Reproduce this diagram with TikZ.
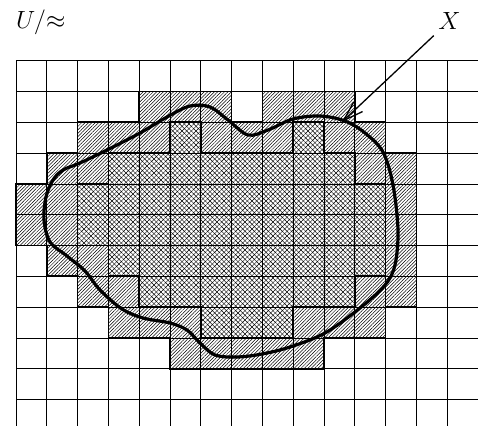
\documentclass[tikz,border=0pt]{standalone}
\usetikzlibrary{patterns.meta,arrows.meta}
\begin{document}
\begin{tikzpicture}[x=1pt,y=-1pt,
  gridline/.style={line width=0.8pt,black},
  outline/.style={line width=1.7pt,black,line join=miter},
  hatchfill/.style={pattern={Lines[angle=45,distance=2.4pt,line width=0.5pt]}},
  crossA/.style={pattern={Lines[angle=45,distance=3.3pt,line width=0.45pt]}},
  crossB/.style={pattern={Lines[angle=-45,distance=3.3pt,line width=0.45pt]}},
  curvestyle/.style={line width=3.2pt,black,line join=round},
  lbl/.style={inner sep=0pt,font=\fontsize{23.5}{28}\selectfont},
  pointer/.style={line width=1.3pt,-{Straight Barb[length=20pt,width=13pt]}}]
\useasboundingbox (0,0) rectangle (478,425);
\begin{scope}
\clip (0,0) rectangle (478,425);
\begin{scope}[x=30.8pt,y=-30.8pt,shift={(16pt,-60.7pt)}]
  % hatched outer region
  \fill[hatchfill] (4,1)--(7,1)--(7,2)--(8,2)--(8,1)--(11,1)--(11,2)--(12,2)--(12,3)--(13,3)--(13,8)--(12,8)--(12,9)--(10,9)--(10,10)--(5,10)--(5,9)--(3,9)--(3,8)--(2,8)--(2,7)--(1,7)--(1,6)--(0,6)--(0,4)--(1,4)--(1,3)--(2,3)--(2,2)--(4,2)--cycle;
  % cross-hatched inner region
  \fill[white] (5,2)--(6,2)--(6,3)--(9,3)--(9,2)--(10,2)--(10,3)--(11,3)--(11,4)--(12,4)--(12,7)--(11,7)--(11,8)--(9,8)--(9,9)--(6,9)--(6,8)--(4,8)--(4,7)--(3,7)--(3,6)--(2,6)--(2,4)--(3,4)--(3,3)--(5,3)--cycle;
  \fill[crossA] (5,2)--(6,2)--(6,3)--(9,3)--(9,2)--(10,2)--(10,3)--(11,3)--(11,4)--(12,4)--(12,7)--(11,7)--(11,8)--(9,8)--(9,9)--(6,9)--(6,8)--(4,8)--(4,7)--(3,7)--(3,6)--(2,6)--(2,4)--(3,4)--(3,3)--(5,3)--cycle;
  \fill[crossB] (5,2)--(6,2)--(6,3)--(9,3)--(9,2)--(10,2)--(10,3)--(11,3)--(11,4)--(12,4)--(12,7)--(11,7)--(11,8)--(9,8)--(9,9)--(6,9)--(6,8)--(4,8)--(4,7)--(3,7)--(3,6)--(2,6)--(2,4)--(3,4)--(3,3)--(5,3)--cycle;
  % grid
  \foreach \i in {0,...,15} \draw[gridline] (\i,0) -- (\i,12);
  \foreach \j in {0,...,12} \draw[gridline] (0,\j) -- (15,\j);
  % outlines
  \draw[outline] (4,1)--(7,1)--(7,2)--(8,2)--(8,1)--(11,1)--(11,2)--(12,2)--(12,3)--(13,3)--(13,8)--(12,8)--(12,9)--(10,9)--(10,10)--(5,10)--(5,9)--(3,9)--(3,8)--(2,8)--(2,7)--(1,7)--(1,6)--(0,6)--(0,4)--(1,4)--(1,3)--(2,3)--(2,2)--(4,2)--cycle;
  \draw[outline] (5,2)--(6,2)--(6,3)--(9,3)--(9,2)--(10,2)--(10,3)--(11,3)--(11,4)--(12,4)--(12,7)--(11,7)--(11,8)--(9,8)--(9,9)--(6,9)--(6,8)--(4,8)--(4,7)--(3,7)--(3,6)--(2,6)--(2,4)--(3,4)--(3,3)--(5,3)--cycle;
\end{scope}
% the set X
\draw[curvestyle] plot[smooth cycle, tension=0.55] coordinates {
  (80,163) (107,150) (140,133) (167,117) (190,106) (210,107) (228,120)
  (248,135) (268,130) (293,119) (320,116) (345,121) (365,133) (383,152)
  (393,185) (398,230) (395,265) (385,285) (360,308) (325,333) (290,347)
  (262,354) (237,357) (215,355) (200,343) (187,330) (170,323) (143,318)
  (122,309) (100,290) (85,271) (67,256) (50,242) (44,220) (46,197)
  (53,180) (63,170)};
\end{scope}
% labels
\node[lbl, anchor=base west] (U) at (16,28.5) {$U/{\approx}$};
\node[lbl, anchor=base] (X) at (449.5,29.3) {$X$};
\coordinate (xtip) at (342,122);
\draw[pointer, shorten <=9pt] (X) -- (xtip);
\end{tikzpicture}
\end{document}
